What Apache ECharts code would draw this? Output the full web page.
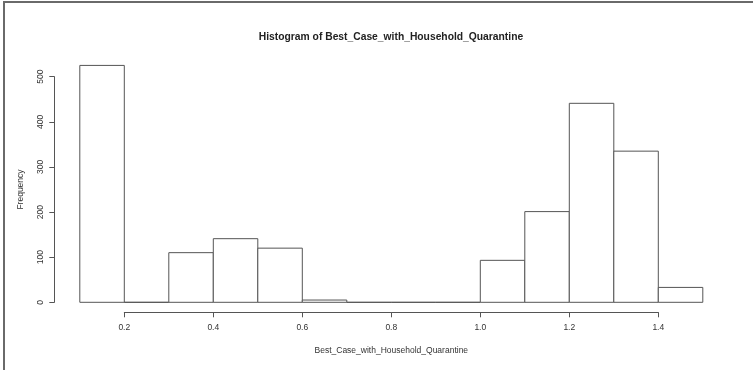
<!DOCTYPE html>
<html>
<head>
<meta charset="utf-8">
<script src="https://cdn.jsdelivr.net/npm/echarts@6/dist/echarts.min.js"></script>
<style>
  html, body { margin: 0; padding: 0; background: #fff; }
  #chart { position: absolute; left: 0; top: 0; width: 753px; height: 370px; }
  #frame { position: absolute; left: 3px; top: 1px; width: 750px; height: 369px;
           border-top: 2px solid #6a6a6a; border-left: 2px solid #6a6a6a; box-sizing: border-box; pointer-events: none; }
</style>
</head>
<body>
<div id="chart"></div>
<div id="frame"></div>
<script>
// Data
const binStarts = [0.1, 0.2, 0.3, 0.4, 0.5, 0.6, 0.7, 0.8, 0.9, 1.0, 1.1, 1.2, 1.3, 1.4];
const binEnds   = [0.2, 0.3, 0.4, 0.5, 0.6, 0.7, 0.8, 0.9, 1.0, 1.1, 1.2, 1.3, 1.4, 1.5];
const counts    = [525, 0, 110, 141, 120, 5, 0, 0, 0, 93, 201, 441, 335, 33];
const xTicks = [0.2, 0.4, 0.6, 0.8, 1.0, 1.2, 1.4];
const yTicks = [0, 100, 200, 300, 400, 500];

const titleText = 'Histogram of Best_Case_with_Household_Quarantine';
const xName = 'Best_Case_with_Household_Quarantine';
const yName = 'Frequency';

const data = binStarts.map((s, i) => [s, binEnds[i], counts[i]]);
const textColor = '#333';
const lineColor = '#555';
const font = 'Liberation Sans, Arial, sans-serif';

const chart = echarts.init(document.getElementById('chart'), null, { renderer: 'canvas' });
chart.setOption({
  animation: false,
  backgroundColor: 'transparent',
  title: {
    text: titleText,
    left: 386, top: 27, textAlign: 'center',
    textStyle: { fontFamily: font, fontSize: 10.3, fontWeight: 'bold', color: '#222' }
  },
  grid: [
    { left: 79.8, right: 50.2, top: 76.7, bottom: 67.7 },
    { left: 124.3, right: 94.7, top: 300, bottom: 57.7 }
  ],
  xAxis: [
    { type: 'value', gridIndex: 0, min: 0.1, max: 1.5, show: false },
    {
      type: 'value', gridIndex: 1, min: 0.2, max: 1.4, interval: 0.2,
      position: 'bottom',
      axisLine: { show: true, lineStyle: { color: lineColor, width: 1 } },
      axisTick: { show: true, length: 5, lineStyle: { color: lineColor } },
      axisLabel: { show: true, margin: 11, color: textColor, fontFamily: font, fontSize: 8.5,
                   formatter: v => v.toFixed(1) },
      splitLine: { show: false },
      name: xName, nameLocation: 'middle', nameGap: 34,
      nameTextStyle: { color: textColor, fontFamily: font, fontSize: 8.5 }
    }
  ],
  yAxis: [
    {
      type: 'value', gridIndex: 0, min: 0, max: 500, interval: 100, offset: 25.5,
      axisLine: { show: true, lineStyle: { color: lineColor, width: 1 } },
      axisTick: { show: true, length: 5, lineStyle: { color: lineColor } },
      axisLabel: { show: true, rotate: 90, margin: 9, color: textColor, fontFamily: font, fontSize: 8.5 },
      splitLine: { show: false },
      name: yName, nameLocation: 'middle', nameRotate: 90, nameGap: 29,
      nameTextStyle: { color: textColor, fontFamily: font, fontSize: 8.5 }
    },
    { type: 'value', gridIndex: 1, show: false, min: 0, max: 1 }
  ],
  series: [{
    type: 'custom',
    xAxisIndex: 0, yAxisIndex: 0,
    clip: false,
    data: data,
    renderItem: function (params, api) {
      const p0 = api.coord([api.value(0), api.value(2)]);
      const p1 = api.coord([api.value(1), 0]);
      return {
        type: 'rect',
        shape: { x: p0[0], y: p0[1], width: p1[0] - p0[0], height: p1[1] - p0[1] },
        style: { fill: '#fff', stroke: lineColor, lineWidth: 1 }
      };
    }
  }]
});
</script>
</body>
</html>
